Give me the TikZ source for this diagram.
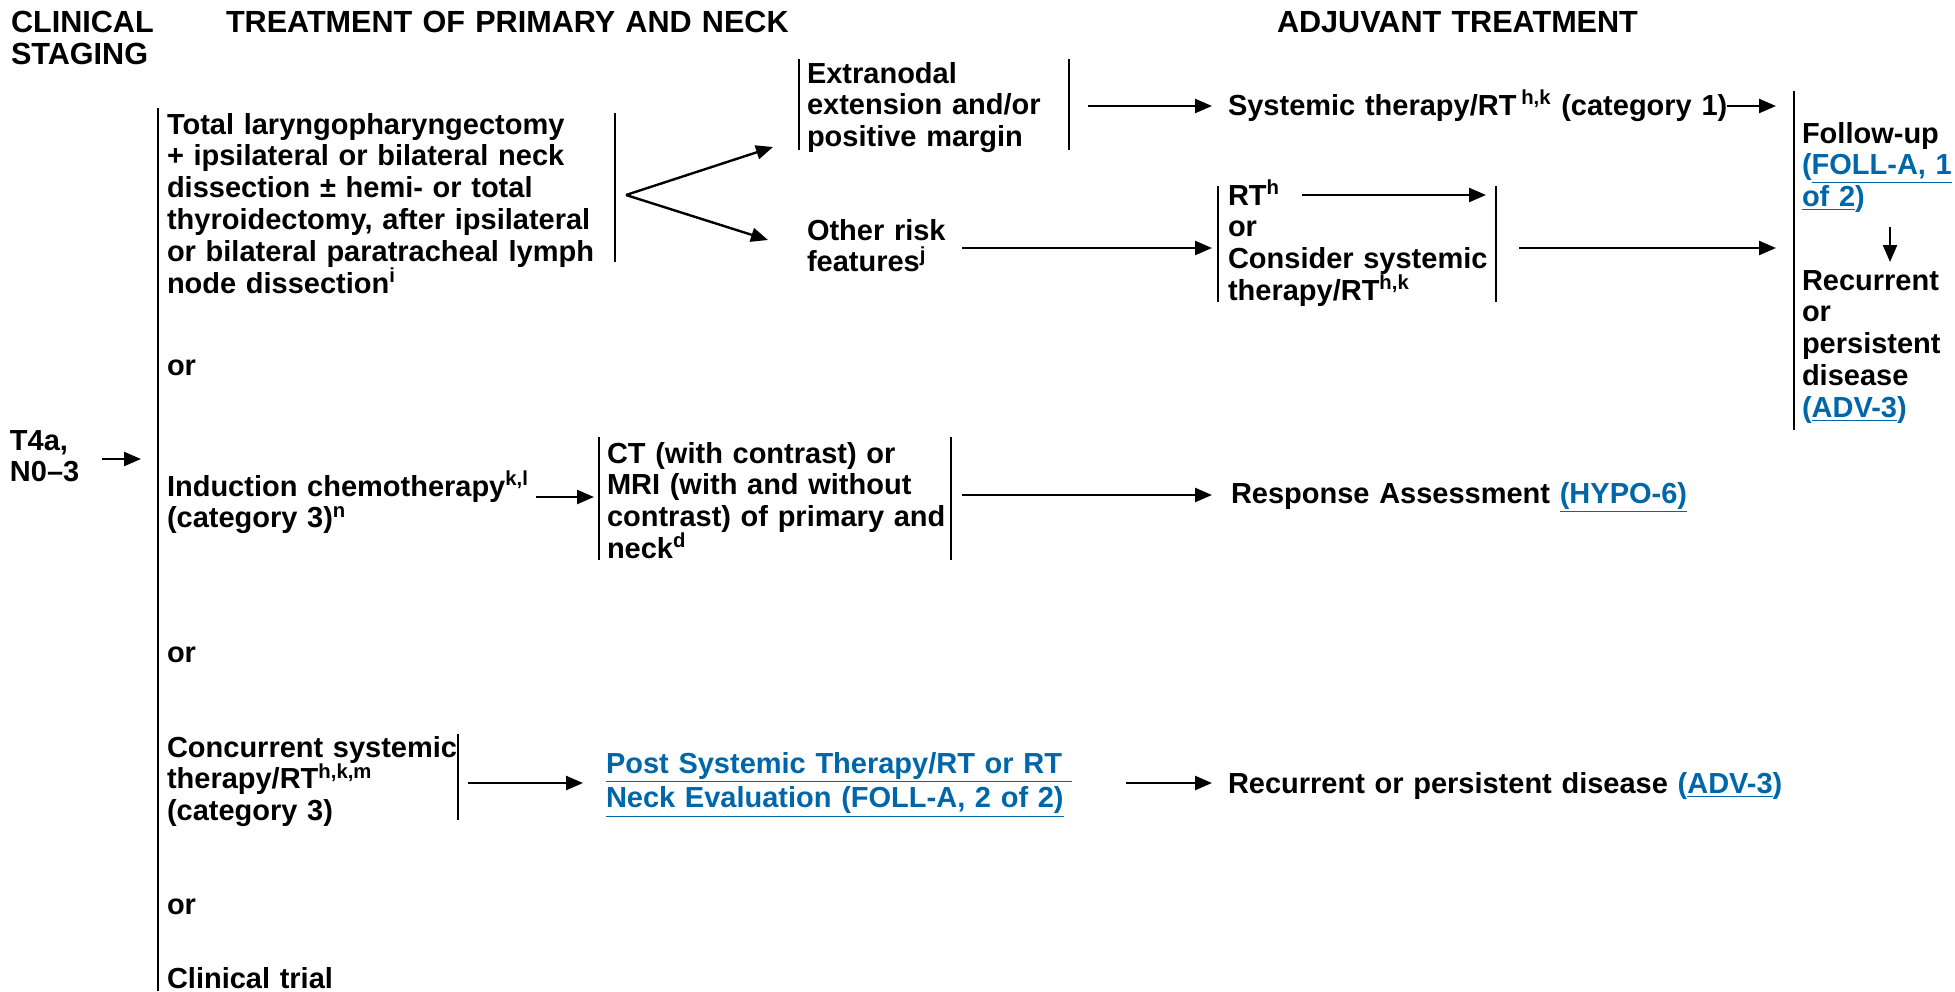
\documentclass[tikz,border=0pt]{standalone}
\usepackage{fontspec}
\setmainfont{Liberation Sans}
\usetikzlibrary{arrows.meta}
\definecolor{linkblue}{RGB}{0,102,170}
\newcommand{\lnk}[1]{\textcolor{linkblue}{\underline{#1}}}
\newcommand{\sps}[1]{\textsuperscript{#1}}
\begin{document}
\begin{tikzpicture}[x=0.5pt,y=-0.5pt,
  every node/.style={inner sep=0pt, outer sep=0pt, font=\fontsize{14.5}{15.9}\selectfont\bfseries},
  txt/.style={anchor=base west, align=left, text width=400pt},
  hdr/.style={txt, font=\fontsize{15.3}{16.4}\selectfont\bfseries},
  bar/.style={line width=1pt},
  arr/.style={line width=1.2pt, -{Triangle[length=8.5pt,width=7pt]}},
]
\useasboundingbox (0,0) rectangle (1955,991);

% headers
\node[hdr] (hclin) at (11,32) {CLINICAL\\STAGING};
\node[hdr] (htreat) at (226,32) {TREATMENT OF PRIMARY AND NECK};
\node[hdr] (hadj) at (1277,32) {ADJUVANT TREATMENT};

% staging
\node[txt] (stage) at (10,450) {T4a,\\N0--3};

% primary treatments
\node[txt] (surg) at (167,134) {Total laryngopharyngectomy\\+ ipsilateral or bilateral neck\\dissection ± hemi- or total\\thyroidectomy, after ipsilateral\\or bilateral paratracheal lymph\\node dissection\sps{i}};
\node[txt] (or1) at (167,375) {or};
\node[txt] (ind) at (167,496) {Induction chemotherapy\sps{k,l}\\(category 3)\sps{n}};
\node[txt] (or2) at (167,662) {or};
\node[txt] (conc) at (167,757) {Concurrent systemic\\therapy/RT\sps{h,k,m}\\(category 3)};
\node[txt] (or3) at (167,914) {or};
\node[txt] (trial) at (167,988) {Clinical trial};

% surgery branches
\node[txt] (ext) at (807,83) {Extranodal\\extension and/or\\positive margin};
\node[txt] (oth) at (807,240) {Other risk\\features\sps{j}};
\node[txt] (sys) at (1228,115) {Systemic therapy/RT\,\sps{h,k} (category 1)};
\node[txt] (rt) at (1228,205) {RT\sps{h}\\or\\Consider systemic\\therapy/RT\sps{h,k}};
\node[txt] (fu) at (1802,143) {Follow-up\\\textcolor{linkblue}{(\underline{FOLL-A, 1}}\\\textcolor{linkblue}{\underline{of 2})}};
\node[txt] (rp) at (1802,290) {Recurrent\\or\\persistent\\disease\\\textcolor{linkblue}{(\underline{ADV-3})}};

% induction branch
\node[txt] (ct) at (607,463) {CT (with contrast) or\\MRI (with and without\\contrast) of primary and\\neck\sps{d}};
\node[txt] (resp) at (1231,503) {Response Assessment \lnk{(HYPO-6)}};

% concurrent branch
\node[txt] (post) at (606,773) {\lnk{Post Systemic Therapy/RT or RT }\\[1.5pt]\lnk{Neck Evaluation (FOLL-A, 2 of 2)}};
\node[txt] (rec) at (1228,793) {Recurrent or persistent disease \textcolor{linkblue}{(\underline{ADV-3})}};

% bars
\coordinate (mainT) at (158,108); \coordinate (mainB) at (158,991);
\draw[bar] (mainT) -- (mainB);
\draw[bar] (615,113) -- (615,262);
\draw[bar] (799,59) -- (799,150);
\draw[bar] (1069,59) -- (1069,150);
\draw[bar] (1218,186) -- (1218,302);
\draw[bar] (1496,186) -- (1496,302);
\draw[bar] (1794,91) -- (1794,430);
\draw[bar] (599,437) -- (599,560);
\draw[bar] (951,437) -- (951,560);
\draw[bar] (458,734) -- (458,820);

% arrow end points
\coordinate (aS1) at (102,459);  \coordinate (aE1) at (141,459);
\coordinate (fork) at (626,195);
\coordinate (tipU) at (773,147);  \coordinate (tipD) at (768,240);
\coordinate (aS2) at (1088,106); \coordinate (aE2) at (1212,106);
\coordinate (aS3) at (1727,106); \coordinate (aE3) at (1776,106);
\coordinate (aS4) at (962,248);  \coordinate (aE4) at (1212,248);
\coordinate (aS5) at (1302,195); \coordinate (aE5) at (1486,195);
\coordinate (aS6) at (1519,248); \coordinate (aE6) at (1776,248);
\coordinate (aS7) at (1890,227); \coordinate (aE7) at (1890,262);
\coordinate (aS8) at (536,497);  \coordinate (aE8) at (594,497);
\coordinate (aS9) at (962,495);  \coordinate (aE9) at (1212,495);
\coordinate (aS10) at (468,783); \coordinate (aE10) at (583,783);
\coordinate (aS11) at (1126,783); \coordinate (aE11) at (1212,783);

\draw[arr] (aS1) -- (aE1);
\draw[arr] (fork) -- (tipU);
\draw[arr] (fork) -- (tipD);
\draw[arr] (aS2) -- (aE2);
\draw[arr] (aS3) -- (aE3);
\draw[arr] (aS4) -- (aE4);
\draw[arr] (aS5) -- (aE5);
\draw[arr] (aS6) -- (aE6);
\draw[arr] (aS7) -- (aE7);
\draw[arr] (aS8) -- (aE8);
\draw[arr] (aS9) -- (aE9);
\draw[arr] (aS10) -- (aE10);
\draw[arr] (aS11) -- (aE11);
\end{tikzpicture}
\end{document}
